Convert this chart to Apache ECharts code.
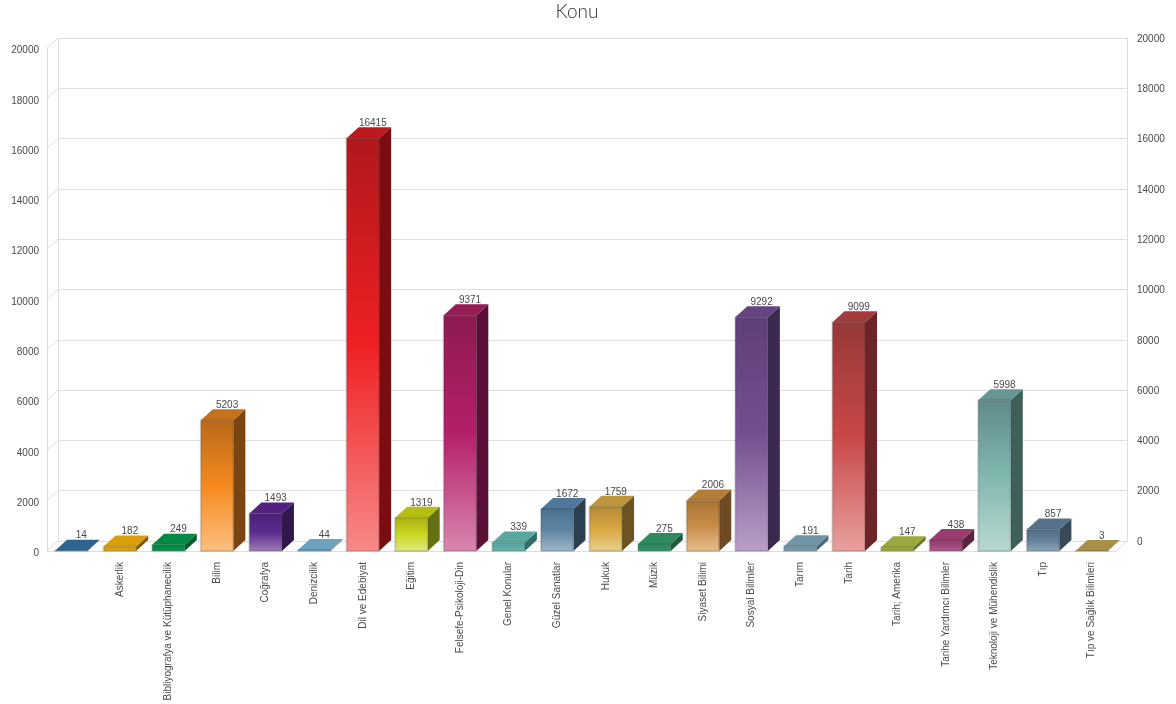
<!DOCTYPE html>
<html>
<head>
<meta charset="utf-8">
<style>html,body{margin:0;padding:0;background:#fff}#chart{width:1176px;height:704px}</style>
<script src="https://cdn.jsdelivr.net/npm/echarts@6/dist/echarts.min.js"></script>
</head>
<body>
<div id="chart"></div>
<script>
// Subject counts drawn as extruded columns
const categories = ['', 'Askerlik', 'Bibliyografya ve Kütüphanecilik', 'Bilim', 'Coğrafya', 'Denizcilik', 'Dil ve Edebiyat', 'Eğitim', 'Felsefe-Psikoloji-Din', 'Genel Konular', 'Güzel Sanatlar', 'Hukuk', 'Müzik', 'Siyaset Bilimi', 'Sosyal Bilimler', 'Tarım', 'Tarih', 'Tarih; Amerika', 'Tarihe Yardımcı Bilimler', 'Teknoloji ve Mühendislik', 'Tıp', 'Tıp ve Sağlık Bilimleri'];
const counts = [14, 182, 249, 5203, 1493, 44, 16415, 1319, 9371, 339, 1672, 1759, 275, 2006, 9292, 191, 9099, 147, 438, 5998, 857, 3];
const yTicks = [0, 2000, 4000, 6000, 8000, 10000, 12000, 14000, 16000, 18000, 20000];

// Face shading per column: top of front, middle of front, foot of front, side wall
const faceTop = ['#2e6490', '#d9a00c', '#008a43', '#b8691a', '#4c2078', '#6ea3bf', '#b0181c', '#a8b010', '#8c1a50', '#58a8a0', '#4a7090', '#b08a38', '#2f8a60', '#a87434', '#5f3f78', '#7095a8', '#963838', '#9aa83c', '#8f3a68', '#5f8a88', '#506a80', '#a88f4a'];
const faceMid = ['#2e6490', '#d9a00c', '#008a43', '#f68a1e', '#5b2a8c', '#6ea3bf', '#ee2024', '#c8d820', '#b42068', '#58a8a0', '#5f84a4', '#d8a840', '#2f8a60', '#c88c48', '#744f90', '#7095a8', '#c84848', '#9aa83c', '#a04478', '#80b8b0', '#64809a', '#a88f4a'];
const faceLow = ['#2e6490', '#e8b020', '#20a060', '#fcc082', '#a080b8', '#6ea3bf', '#f88a88', '#e0e888', '#d888b0', '#70c0b8', '#a0b8c8', '#e8d090', '#40a078', '#e8c090', '#b8a0c8', '#8fb0c0', '#e8a0a0', '#b0c050', '#b06090', '#b8d8d0', '#90a8b8', '#a88f4a'];
const sideWall = ['#1f4a6c', '#7a5c08', '#045c2e', '#7a4510', '#30184c', '#4f7a90', '#7a0d10', '#66700f', '#5a0f35', '#2f6f68', '#2c4050', '#6c5520', '#1d5a3c', '#6f4a22', '#3a2a50', '#4c6a78', '#6c2428', '#68702a', '#5a2440', '#3f5f58', '#384a58', '#7a6a38'];

const frameColor = '#dcdce8';
const gridColor = '#dfdfe1';
const textColor = '#4a4a4a';
const font = '"Liberation Sans", Arial, sans-serif';

// Offset of the back wall from the front plane
const wallDx = 11, wallDy = 10;
const colDx = 12, colDy = 11;

function renderColumn(params, api) {
  const i = api.value(0);
  const base = api.coord([i, 0]);
  const top = api.coord([i, api.value(1)]);
  const w = api.size([1, 0])[0] * 0.67;
  const xl = base[0] - w / 2, xr = base[0] + w / 2;
  const y0 = base[1], y1 = top[1];
  const cap = faceTop[i] === faceMid[i] ? faceTop[i] : echarts.color.lift(faceTop[i], -0.08);
  return {
    type: 'group',
    children: [
      {
        type: 'polygon',
        shape: { points: [[xr, y1], [xr + colDx, y1 - colDy], [xr + colDx, y0 - colDy], [xr, y0]] },
        style: { fill: sideWall[i] }
      },
      {
        type: 'polygon',
        shape: { points: [[xl, y1], [xl + colDx, y1 - colDy], [xr + colDx, y1 - colDy], [xr, y1]] },
        style: { fill: cap }
      },
      {
        type: 'rect',
        shape: { x: xl, y: y1, width: w, height: y0 - y1 },
        style: {
          fill: new echarts.graphic.LinearGradient(0, 0, 0, 1, [
            { offset: 0, color: faceTop[i] },
            { offset: 0.5, color: faceMid[i] },
            { offset: 1, color: faceLow[i] }
          ]),
          stroke: 'rgba(50,50,50,0.18)',
          lineWidth: 2
        }
      },
      {
        type: 'text',
        style: {
          text: String(api.value(1)),
          x: base[0] + colDx - 2,
          y: y1 - colDy + 1,
          align: 'center',
          verticalAlign: 'bottom',
          fill: textColor,
          font: '10px ' + font
        }
      }
    ]
  };
}

// Slanted links joining the front axis to the back wall at each tick
function renderLink(params, api) {
  const cs = params.coordSys;
  const y = api.coord([0, api.value(0)])[1];
  const links = [{
    type: 'line',
    shape: { x1: cs.x, y1: y, x2: cs.x + wallDx, y2: y - wallDy },
    style: { stroke: frameColor, lineWidth: 1 }
  }];
  if (api.value(0) === 0) {
    links.push({
      type: 'line',
      shape: { x1: cs.x + cs.width, y1: y, x2: cs.x + cs.width + wallDx, y2: y - wallDy },
      style: { stroke: frameColor, lineWidth: 1 }
    });
  }
  return { type: 'group', children: links };
}

const plainTick = v => String(v);

const chart = echarts.init(document.getElementById('chart'));
chart.setOption({
  animation: false,
  backgroundColor: '#fff',
  title: {
    text: 'Konu',
    left: 572,
    top: -3,
    textAlign: 'center',
    textStyle: { fontFamily: 'Lato, "Liberation Sans", sans-serif', fontSize: 19, fontWeight: 300, color: '#333' }
  },
  grid: [
    { left: 47, right: 60, top: 48, bottom: 153 },
    { left: 58, right: 49, top: 38, bottom: 163 }
  ],
  xAxis: [
    {
      type: 'category', gridIndex: 0, data: categories,
      axisLine: { lineStyle: { color: frameColor } },
      axisTick: { show: false },
      axisLabel: { interval: 0, rotate: 90, margin: 11, color: textColor, fontFamily: font, fontSize: 10 }
    },
    {
      type: 'category', gridIndex: 1, data: categories,
      axisLine: { lineStyle: { color: frameColor } },
      axisTick: { show: false },
      axisLabel: { show: false }
    }
  ],
  yAxis: [
    {
      type: 'value', gridIndex: 0, min: 0, max: 20000, interval: 2000,
      axisLine: { show: true, lineStyle: { color: frameColor } },
      axisTick: { show: false },
      splitLine: { show: false },
      axisLabel: { margin: 8, color: textColor, fontFamily: font, fontSize: 10, formatter: plainTick, verticalAlign: 'top', lineHeight: 5 }
    },
    {
      type: 'value', gridIndex: 1, position: 'right', min: 0, max: 20000, interval: 2000,
      axisLine: { show: true, lineStyle: { color: frameColor } },
      axisTick: { show: false },
      splitLine: { show: true, lineStyle: { color: gridColor } },
      axisLabel: { margin: 10, color: textColor, fontFamily: font, fontSize: 10, formatter: plainTick, verticalAlign: 'top', lineHeight: 2 }
    },
    {
      type: 'value', gridIndex: 1, position: 'left', min: 0, max: 20000, interval: 2000,
      axisLine: { show: true, lineStyle: { color: frameColor } },
      axisTick: { show: false },
      splitLine: { show: false },
      axisLabel: { show: false }
    }
  ],
  series: [
    {
      type: 'custom', xAxisIndex: 0, yAxisIndex: 0, silent: true, clip: false, z: 1,
      renderItem: renderLink,
      encode: { y: 0 },
      data: yTicks.map(v => [v])
    },
    {
      type: 'custom', xAxisIndex: 0, yAxisIndex: 0, silent: true, clip: false, z: 5,
      renderItem: renderColumn,
      encode: { x: 0, y: 1 },
      data: counts.map((v, i) => [i, v])
    }
  ]
});
</script>
</body>
</html>
